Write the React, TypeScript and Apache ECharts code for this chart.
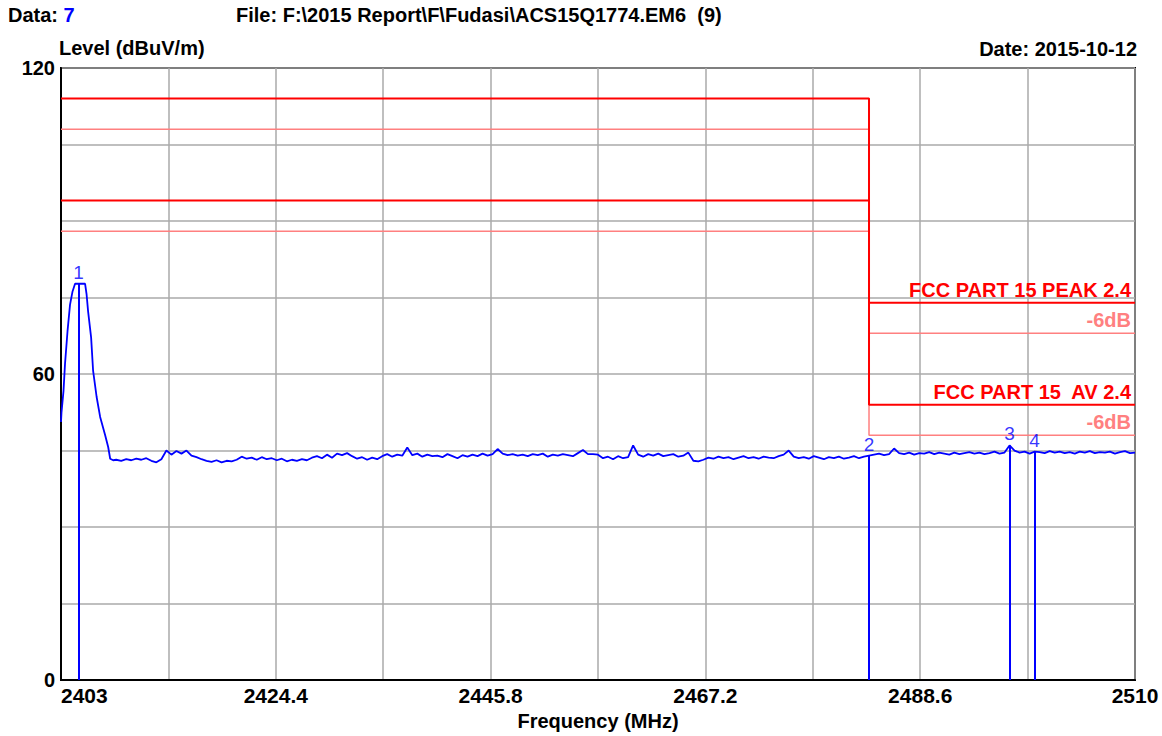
import React, { useEffect, useRef } from "react";
import * as echarts from "echarts";

// ---------- axes ----------
const X_MIN = 2403;
const X_MAX = 2510;
const X_STEP = 10.7;
const Y_MIN = 0;
const Y_MAX = 120;
const Y_STEP = 15;
const Y_LABELS = [0, 60, 120];

// ---------- header texts ----------
const DATA_NO = "7";
const FILE_TEXT = "File: F:\\2015 Report\\F\\Fudasi\\ACS15Q1774.EM6  (9)";
const DATE_TEXT = "Date: 2015-10-12";
const Y_NAME = "Level (dBuV/m)";
const X_NAME = "Frequency (MHz)";

// ---------- measured trace: carrier peak ----------
const PEAK_FREQ = [
  2403.0, 2403.05, 2403.25, 2403.4, 2403.65, 2403.9, 2404.15, 2404.4, 2404.75,
  2405.4, 2405.55, 2405.7, 2406.0, 2406.2, 2406.55, 2406.9, 2407.4, 2407.7,
  2407.9, 2408.2,
];
const PEAK_LEVEL = [
  50.6, 52.5, 56.7, 62.0, 68.4, 73.6, 76.2, 77.7, 77.7,
  77.7, 75.6, 72.3, 67.2, 60.6, 55.5, 51.6, 48.0, 45.7,
  43.4, 43.1,
];

// ---------- measured trace: noise floor (sweep points every 0.5 MHz from 2408.5) ----------
const SWEEP_START = 2408.5;
const SWEEP_STEP = 0.5;
const SWEEP_LEVEL = [
  43.2, 43.0, 43.3, 43.1, 43.4, 43.2, 43.5, 43.0, 42.7, 43.3,
  45.0, 44.2, 44.9, 44.4, 45.0, 44.0, 43.7, 43.3, 43.0, 42.8,
  43.1, 42.7, 43.0, 42.9, 43.2, 43.8, 43.4, 43.6, 43.2, 43.7,
  43.3, 43.5, 43.1, 43.4, 42.9, 43.2, 43.0, 43.3, 43.1, 43.6,
  43.9, 43.5, 44.2, 43.6, 44.4, 44.1, 44.5, 43.9, 43.4, 43.7,
  43.2, 43.6, 43.3, 43.9, 44.3, 43.8, 44.2, 44.0, 45.6, 44.1,
  44.4, 43.8, 44.2, 43.9, 44.0, 43.7, 44.3, 43.9, 43.5, 44.1,
  43.8, 44.2, 43.9, 44.4, 44.0, 44.3, 45.3, 44.4, 44.1, 44.3,
  44.0, 44.2, 43.9, 44.3, 44.1, 44.4, 43.8, 44.2, 44.0, 44.3,
  44.1, 43.9, 44.5, 45.1, 44.3, 44.3, 44.2, 43.5, 43.8, 43.3,
  43.9, 43.5, 43.7, 46.0, 44.2, 43.8, 44.3, 44.0, 44.4, 43.9,
  44.1, 44.3, 43.8, 44.0, 44.6, 43.0, 42.9, 43.2, 43.6, 43.4,
  43.8, 43.5, 43.7, 43.3, 43.6, 43.9, 43.5, 43.7, 43.4, 43.8,
  43.6, 43.5, 43.9, 44.2, 45.0, 43.8, 43.5, 43.7, 43.4, 43.9,
  43.6, 43.3, 43.7, 43.5, 43.8, 43.4, 43.6, 43.9, 43.5, 43.8,
  44.0, 44.2, 44.4, 44.1, 44.3, 45.4, 44.5, 44.3, 44.6, 44.2,
  44.5, 44.4, 44.7, 44.3, 44.6, 44.4, 44.2, 44.6, 44.3, 44.5,
  44.7, 44.4, 44.6, 44.3, 44.5, 44.8, 44.4, 44.6, 46.0, 45.0,
  44.6, 44.8, 44.4, 44.8, 44.7, 44.5, 44.9, 44.6, 44.8, 44.5,
  44.7, 44.4, 44.8, 44.6, 44.9, 44.5, 44.7, 44.6, 44.8, 44.4,
  44.7, 44.9, 44.5, 44.6,
];

// ---------- limit lines ----------
const LIMIT_EDGE = 2483.5;
const LIMIT_NAMES = ["FCC PART 15 PEAK 2.4", "-6dB", "FCC PART 15  AV 2.4", "-6dB"];
const LIMIT_HIGH = [114, 108, 94, 88];
const LIMIT_LOW = [74, 68, 54, 48];
const LIMIT_COLORS = ["#ff0000", "#ff8080", "#ff0000", "#ff8080"];

// ---------- markers ----------
const MARKER_IDS = ["1", "2", "3", "4"];
const MARKER_FREQ = [2404.75, 2483.5, 2497.5, 2500.0];
const MARKER_LEVEL = [77.7, 44.0, 46.0, 44.8];

const FONT = "'Liberation Sans', Arial, sans-serif";
const BLUE = "#0000ff";

const off = (f: number) => +(f - X_MIN).toFixed(3);

export default function App() {
  const ref = useRef<HTMLDivElement>(null);

  useEffect(() => {
    if (!ref.current) return;
    const chart = echarts.init(ref.current, null, { renderer: "svg" });

    const trace: number[][] = [];
    PEAK_FREQ.forEach((f, i) => trace.push([off(f), PEAK_LEVEL[i]]));
    SWEEP_LEVEL.forEach((v, i) => trace.push([off(SWEEP_START + i * SWEEP_STEP), v]));

    const span = X_MAX - X_MIN;
    const limitSeries = LIMIT_NAMES.map((name, i) => ({
      type: "line",
      name: name + i,
      silent: true,
      symbol: "none",
      z: i % 2 === 0 ? 3 : 2,
      lineStyle: { color: LIMIT_COLORS[i], width: i % 2 === 0 ? 2 : 1.5 },
      data: [
        [0, LIMIT_HIGH[i]],
        [off(LIMIT_EDGE), LIMIT_HIGH[i]],
        [off(LIMIT_EDGE), LIMIT_LOW[i]],
        [span, LIMIT_LOW[i]],
      ],
      markPoint: {
        symbol: "circle",
        symbolSize: 0,
        silent: true,
        data: [{ coord: [span, LIMIT_LOW[i]] }],
        label: {
          show: true,
          position: "left",
          distance: 4,
          offset: [0, -13],
          formatter: name,
          color: LIMIT_COLORS[i],
          fontFamily: FONT,
          fontWeight: "bold",
          fontSize: 20,
        },
      },
    }));

    const markerData = MARKER_IDS.map((id, i) => [off(MARKER_FREQ[i]), MARKER_LEVEL[i], id]);

    const headStyle = { fontFamily: FONT, fontWeight: "bold", fontSize: 20, color: "#000" };

    chart.setOption({
      animation: false,
      backgroundColor: "#ffffff",
      title: [
        {
          text: "{a|Data: }{b|" + DATA_NO + "}",
          left: 8,
          top: 5,
          padding: 0,
          textStyle: {
            rich: {
              a: { ...headStyle },
              b: { ...headStyle, color: BLUE },
            },
          },
        },
        {
          text: FILE_TEXT,
          left: 236,
          top: 5,
          padding: 0,
          textStyle: headStyle,
        },
        {
          text: DATE_TEXT,
          right: 25,
          top: 39,
          padding: 0,
          textStyle: headStyle,
        },
      ],
      grid: {
        left: 61,
        right: 27,
        top: 68,
        bottom: 53,
        show: true,
        borderColor: "#000",
        borderWidth: 2,
        backgroundColor: "transparent",
      },
      xAxis: {
        type: "value",
        min: 0,
        max: span,
        interval: X_STEP,
        name: X_NAME,
        nameLocation: "middle",
        nameGap: 30,
        nameTextStyle: headStyle,
        axisLine: { show: true, onZero: false, lineStyle: { color: "#000", width: 2 } },
        axisTick: { show: false },
        splitLine: { show: true, lineStyle: { color: "#aaaaaa", width: 1.5 } },
        axisLabel: {
          margin: 5,
          fontFamily: FONT,
          fontWeight: "bold",
          fontSize: 21,
          color: "#000",
          alignMinLabel: "left",
          formatter: (v: number) => {
            const k = Math.round(v / X_STEP);
            if (k % 2 !== 0) return "";
            return String(+(X_MIN + v).toFixed(1));
          },
        },
      },
      yAxis: {
        type: "value",
        min: Y_MIN,
        max: Y_MAX,
        interval: Y_STEP,
        name: Y_NAME,
        nameLocation: "end",
        nameGap: 9,
        nameTextStyle: {
          ...headStyle,
          align: "left",
          padding: [0, 0, 0, -2],
        },
        axisLine: { show: true, lineStyle: { color: "#000", width: 2 } },
        axisTick: { show: false },
        splitLine: { show: true, lineStyle: { color: "#aaaaaa", width: 1.5 } },
        axisLabel: {
          margin: 6,
          fontFamily: FONT,
          fontWeight: "bold",
          fontSize: 20,
          color: "#000",
          formatter: (v: number) => (Y_LABELS.includes(v) ? String(v) : ""),
        },
      },
      series: [
        ...limitSeries,
        {
          type: "line",
          name: "trace",
          symbol: "none",
          silent: true,
          z: 4,
          lineStyle: { color: BLUE, width: 1.8 },
          data: trace,
        },
        {
          type: "scatter",
          name: "markers",
          symbolSize: 0,
          silent: true,
          z: 5,
          itemStyle: { color: BLUE },
          data: markerData,
          label: {
            show: true,
            position: "top",
            distance: 2,
            formatter: (p: any) => p.value[2],
            color: BLUE,
            fontFamily: FONT,
            fontSize: 19,
          },
          markLine: {
            silent: true,
            symbol: ["none", "none"],
            label: { show: false },
            lineStyle: { color: BLUE, width: 2, type: "solid" },
            data: MARKER_FREQ.map((f, i) => [
              { coord: [off(f), MARKER_LEVEL[i]] },
              { coord: [off(f), Y_MIN] },
            ]),
          },
        },
      ],
    });

    return () => chart.dispose();
  }, []);

  return (
    <div
      ref={ref}
      style={{ position: "absolute", left: 0, top: 0, width: 1162, height: 736, background: "#fff" }}
    />
  );
}
